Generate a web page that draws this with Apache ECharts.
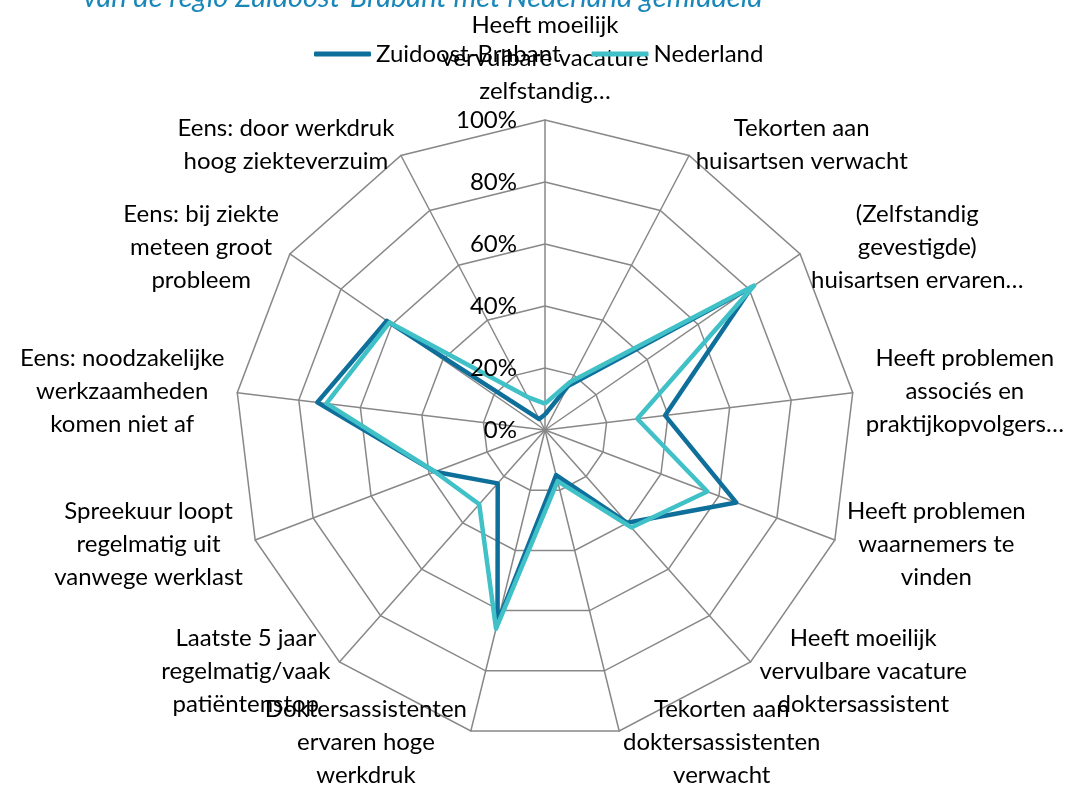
<!DOCTYPE html>
<html>
<head>
<meta charset="utf-8">
<script src="https://cdn.jsdelivr.net/npm/echarts@6/dist/echarts.min.js"></script>
<style>
  html, body { margin: 0; padding: 0; background: #ffffff; }
  #chart { width: 1075px; height: 789px; }
</style>
</head>
<body>
<div id="chart"></div>
<script>
// ---- Data (clockwise from top) ----
const categories = [
  "Heeft moeilijk\nvervulbare vacature\nzelfstandig…",
  "Tekorten aan\nhuisartsen verwacht",
  "(Zelfstandig\ngevestigde)\nhuisartsen ervaren…",
  "Heeft problemen\nassociés en\npraktijkopvolgers…",
  "Heeft problemen\nwaarnemers te\nvinden",
  "Heeft moeilijk\nvervulbare vacature\ndoktersassistent",
  "Tekorten aan\ndoktersassistenten\nverwacht",
  "Doktersassistenten\nervaren hoge\nwerkdruk",
  "Laatste 5 jaar\nregelmatig/vaak\npatiëntenstop",
  "Spreekuur loopt\nregelmatig uit\nvanwege werklast",
  "Eens: noodzakelijke\nwerkzaamheden\nkomen niet af",
  "Eens: bij ziekte\nmeteen groot\nprobleem",
  "Eens: door werkdruk\nhoog ziekteverzuim"
];
const zuidoostBrabant = [5, 16, 81, 39, 66, 40, 15, 64, 23, 38, 74, 62, 4];
const nederland      = [8.5, 17.5, 82, 30, 56, 42, 17, 66, 32, 38, 71, 61, 12];
const seriesNames = ["Zuidoost-Brabant", "Nederland"];
const tickValues = [0, 20, 40, 60, 80, 100];
const titleText = "van de regio Zuidoost-Brabant met Nederland gemiddeld";

// ---- Build ----
const FONT = "Lato";
const FS = 24;
const LH = 33;
const CX = 545, CY = 430, R = 310;

// ECharts places radar indicators counter-clockwise; reorder for clockwise display.
const order = [0];
for (let i = categories.length - 1; i >= 1; i--) order.push(i);

const ctx = document.createElement('canvas').getContext('2d');
ctx.font = FS + "px " + FONT;
const rich = {};
categories.forEach((c, i) => {
  const w = Math.max(...c.split("\n").map(l => ctx.measureText(l).width)) + 2;
  rich["c" + i] = { width: w, align: "center", fontSize: FS, fontFamily: FONT, lineHeight: LH, color: "#000" };
});

const indicator = order.map(i => ({ name: categories[i], max: 100, min: 0 }));
const reorder = arr => order.map(i => arr[i]);

const chart = echarts.init(document.getElementById('chart'), null, { renderer: 'canvas' });
chart.setOption({
  backgroundColor: '#ffffff',
  animation: false,
  title: {
    text: titleText,
    left: 78,
    top: -22,
    textStyle: { fontFamily: FONT, fontSize: 29, fontStyle: 'italic', fontWeight: 'normal', color: '#1b87b8' }
  },
  legend: {
    data: seriesNames,
    left: 309,
    top: 37,
    icon: 'roundRect',
    itemWidth: 57,
    itemHeight: 5,
    itemGap: 31,
    textStyle: { fontFamily: FONT, fontSize: FS, color: '#000' }
  },
  grid: { left: CX, top: CY - R, width: 1, height: R },
  xAxis: { type: 'value', show: false },
  yAxis: {
    type: 'value', min: 0, max: 100, interval: 20, z: 10,
    axisLine: { show: false }, axisTick: { show: false }, splitLine: { show: false },
    axisLabel: { formatter: '{value}%', margin: 28, fontFamily: FONT, fontSize: FS, color: '#000' },
    data: tickValues
  },
  radar: {
    center: [CX, CY],
    radius: R,
    startAngle: 90,
    shape: 'polygon',
    splitNumber: 5,
    nameGap: 12,
    axisName: {
      color: '#000',
      fontFamily: FONT,
      fontSize: FS,
      lineHeight: LH,
      formatter: (name) => {
        const k = categories.indexOf(name);
        return name.split("\n").map(l => "{c" + k + "|" + l + "}").join("\n");
      },
      rich: rich
    },
    axisLine: { lineStyle: { color: '#888888', width: 1.5 } },
    splitLine: { lineStyle: { color: '#888888', width: 1.5 } },
    splitArea: { show: false },
    indicator: indicator
  },
  series: [{
    type: 'radar',
    symbol: 'none',
    data: [
      { name: seriesNames[0], value: reorder(zuidoostBrabant),
        lineStyle: { color: '#0f6f9b', width: 4.5 }, itemStyle: { color: '#0f6f9b' } },
      { name: seriesNames[1], value: reorder(nederland),
        lineStyle: { color: '#40c0c7', width: 4.5 }, itemStyle: { color: '#40c0c7' } }
    ]
  }]
});
</script>
</body>
</html>
